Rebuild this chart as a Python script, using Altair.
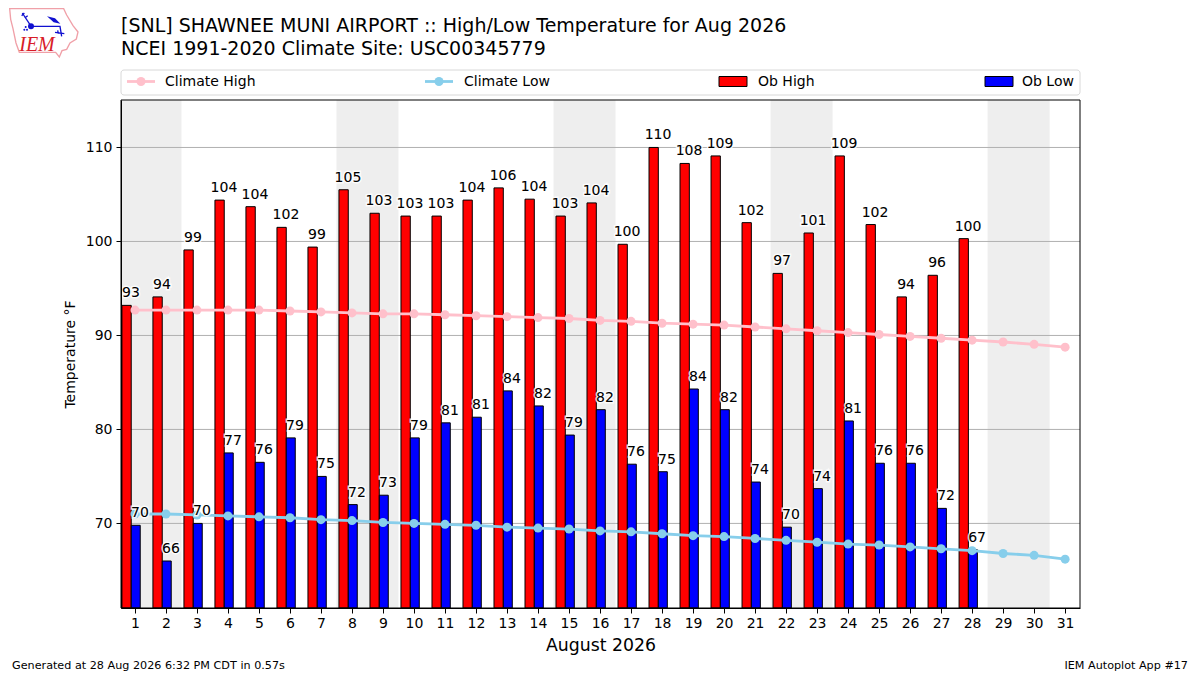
import base64
import altair as alt
import pandas as pd

days = list(range(1, 32))
obs_days = list(range(1, 29))
ob_high = [93.2, 94.1, 99.1, 104.4, 103.7, 101.5, 99.4, 105.5, 103.0, 102.7, 102.7, 104.4, 105.7, 104.5,
           102.7, 104.1, 99.7, 110.0, 108.3, 109.1, 102.0, 96.6, 100.9, 109.1, 101.8, 94.1, 96.4, 100.3]
ob_low = [69.8, 66.0, 70.0, 77.5, 76.5, 79.1, 75.0, 72.0, 73.0, 79.1, 80.7, 81.3, 84.1, 82.5,
          79.4, 82.1, 76.3, 75.5, 84.3, 82.1, 74.4, 69.6, 73.7, 80.9, 76.4, 76.4, 71.6, 67.2]
high_labels = [93, 94, 99, 104, 104, 102, 99, 105, 103, 103, 103, 104, 106, 104,
               103, 104, 100, 110, 108, 109, 102, 97, 101, 109, 102, 94, 96, 100]
low_labels = [70, 66, 70, 77, 76, 79, 75, 72, 73, 79, 81, 81, 84, 82,
              79, 82, 76, 75, 84, 82, 74, 70, 74, 81, 76, 76, 72, 67]
climate_high = [92.7, 92.7, 92.7, 92.7, 92.7, 92.6, 92.5, 92.4, 92.3, 92.3, 92.2, 92.1, 92.0, 91.9, 91.8, 91.6,
                91.5, 91.3, 91.2, 91.1, 90.9, 90.7, 90.5, 90.3, 90.1, 89.9, 89.7, 89.5, 89.3, 89.05, 88.75]
climate_low = [71.0, 71.0, 70.9, 70.8, 70.7, 70.6, 70.4, 70.3, 70.1, 70.0, 69.9, 69.8, 69.6, 69.5, 69.4, 69.2,
               69.1, 68.9, 68.7, 68.6, 68.4, 68.2, 68.0, 67.8, 67.7, 67.5, 67.3, 67.1, 66.8, 66.6, 66.2]
weekend_start = [0.5, 7.5, 14.5, 21.5, 28.5]
weekend_end = [2.5, 9.5, 16.5, 23.5, 30.5]
y_ticks = [70, 80, 90, 100, 110]

W, H = 959, 508
FONT = "DejaVu Sans"
x_scale = alt.Scale(domain=[0.55, 31.48], nice=False, zero=False)
y_scale = alt.Scale(domain=[61.0, 115.05], nice=False, zero=False)

obs = pd.DataFrame({"day": obs_days, "high": ob_high, "low": ob_low, "hl": high_labels, "ll": low_labels})
clim = pd.DataFrame({"day": days, "chigh": climate_high, "clow": climate_low})
wk = pd.DataFrame({"s": weekend_start, "e": weekend_end})
grid = pd.DataFrame({"v": y_ticks})
one = alt.Data(values=[{}])

x_axis = alt.Axis(values=days, format="d", title="August 2026", titleFontSize=17.3, titleFontWeight="normal",
                  titleColor="black", titleFont=FONT, titlePadding=6, labelFont=FONT, labelFontSize=14,
                  labelColor="black", labelPadding=3, labelFlush=False, labelOverlap=False, grid=False,
                  tickColor="black", tickSize=5, domainColor="black", zindex=1)
y_axis = alt.Axis(values=y_ticks, format="d", title="Temperature °F", titleFontSize=14, titleFontWeight="normal",
                  titleColor="black", titleFont=FONT, titlePadding=8, labelFont=FONT, labelFontSize=14,
                  labelColor="black", labelPadding=4, grid=False, tickColor="black", tickSize=5,
                  domainColor="black", zindex=1)

X = lambda f: alt.X(f, scale=x_scale, axis=x_axis)
Y = lambda f: alt.Y(f, scale=y_scale, axis=y_axis)

shade = alt.Chart(wk).mark_rect(color="#eeeeee", clip=True).encode(
    x=X("s:Q"), x2="e:Q", y=alt.value(0), y2=alt.value(H))
grid_rules = alt.Chart(grid).mark_rule(color="#b0b0b0", strokeWidth=1).encode(y=Y("v:Q"))

hi_bars = alt.Chart(obs).transform_calculate(a="datum.day-0.42", b="datum.day-0.12").mark_rect(
    color="red", stroke="black", strokeWidth=1, clip=True).encode(
    x=X("a:Q"), x2="b:Q", y=Y("high:Q"), y2=alt.value(H))
lo_bars = alt.Chart(obs).transform_calculate(a="datum.day-0.12", b="datum.day+0.17").mark_rect(
    color="blue", stroke="black", strokeWidth=1, clip=True).encode(
    x=X("a:Q"), x2="b:Q", y=Y("low:Q"), y2=alt.value(H))


def climate(field, color):
    base = alt.Chart(clim).encode(x=X("day:Q"), y=Y(field + ":Q"))
    return [base.mark_line(color=color, strokeWidth=2.8), base.mark_point(color=color, filled=True, opacity=1, size=81)]


def labels(offset, val, lab):
    base = alt.Chart(obs).transform_calculate(p=f"datum.day+({offset})").encode(
        x=X("p:Q"), y=Y(val + ":Q"), text=alt.Text(lab + ":Q", format="d"))
    common = dict(font=FONT, fontSize=14, baseline="bottom", align="center", dy=-5)
    return [base.mark_text(stroke="white", strokeWidth=3, strokeOpacity=0.85, **common),
            base.mark_text(color="black", **common)]


frame = alt.Chart(one).mark_rect(fillOpacity=0, stroke="black", strokeWidth=1).encode(
    x=alt.value(0), x2=alt.value(W), y=alt.value(0), y2=alt.value(H))


def text_at(txt, x, y, size=14, align="left", **kw):
    return alt.Chart(one).mark_text(font=kw.pop("font", FONT), fontSize=size, align=align, baseline="middle",
                                    color=kw.pop("color", "black"), **kw).encode(
        x=alt.value(x), y=alt.value(y), text=alt.value(txt))


LY = -18.5
legend_box = alt.Chart(one).mark_rect(fill="white", stroke="#d8d8d8", strokeWidth=1, cornerRadius=3).encode(
    x=alt.value(0), x2=alt.value(W), y=alt.value(-30), y2=alt.value(-5))


def leg_line(x, color):
    return [alt.Chart(one).mark_rule(color=color, strokeWidth=2.8).encode(
                x=alt.value(x), x2=alt.value(x + 28), y=alt.value(LY)),
            alt.Chart(one).mark_point(color=color, filled=True, opacity=1, size=81).encode(
                x=alt.value(x + 14), y=alt.value(LY))]


def leg_patch(x, color):
    return alt.Chart(one).mark_rect(color=color, stroke="black", strokeWidth=1).encode(
        x=alt.value(x), x2=alt.value(x + 28), y=alt.value(LY - 5), y2=alt.value(LY + 5))


logo_svg = """<svg xmlns="http://www.w3.org/2000/svg" viewBox="0 0 240 180">
<path d="M14 17 L176 17 L185 36 L204 68 L219 87 L214 108 L195 120 L185 139 L171 143 L163 162 L152 148 L43 148 L33 120 L24 77 L17 49 Z"
 fill="white" stroke="#f0a0a8" stroke-width="4"/>
<g stroke="#1010d0" stroke-width="4" fill="none">
<path d="M78 70 L165 70 L170 100"/><path d="M52 30 L75 65"/><path d="M50 38 L58 30 M60 44 L68 38"/>
<path d="M150 88 L178 92 M158 82 L160 92"/></g>
<circle cx="78" cy="70" r="9" fill="#1010d0"/>
<path d="M126 40 L150 46 L166 62 L146 58 Z" fill="#1010d0"/>
<circle cx="58" cy="80" r="3" fill="#1010d0"/><circle cx="66" cy="80" r="3" fill="#1010d0"/><circle cx="62" cy="72" r="3" fill="#1010d0"/>
</svg>"""
logo_url = "data:image/svg+xml;base64," + base64.b64encode(logo_svg.encode()).decode()
logo = alt.Chart(one).mark_image(url=logo_url, width=80, height=60, align="left", baseline="top").encode(
    x=alt.value(5 - 121), y=alt.value(3 - 100))
logo_text = text_at("IEM", 37 - 121, 45 - 100, size=20, align="center", font="Liberation Serif",
                    color="#d81c28", fontStyle="italic")

layers = [shade, grid_rules, hi_bars, lo_bars]
layers += climate("chigh", "pink") + climate("clow", "skyblue")
layers += labels(-0.13, "high", "hl") + labels(0.16, "low", "ll")
layers += [frame, legend_box]
layers += leg_line(6, "pink") + leg_line(304, "skyblue")
layers += [leg_patch(598, "red"), leg_patch(864, "blue"),
           text_at("Climate High", 44, LY), text_at("Climate Low", 343, LY),
           text_at("Ob High", 637, LY), text_at("Ob Low", 901, LY),
           text_at("[SNL] SHAWNEE MUNI AIRPORT :: High/Low Temperature for Aug 2026", 0, 26 - 100, size=19),
           text_at("NCEI 1991-2020 Climate Site: USC00345779", 0, 49 - 100, size=19),
           text_at("Generated at 28 Aug 2026 6:32 PM CDT in 0.57s", 12 - 121, 666 - 100, size=11.2),
           text_at("IEM Autoplot App #17", 1188 - 121, 666 - 100, size=11.2, align="right"),
           logo, logo_text]

chart = alt.layer(*layers).properties(
    width=W, height=H,
    autosize=alt.AutoSizeParams(type="none"),
    padding={"left": 113, "top": 92, "right": 112, "bottom": 65},
).configure_view(stroke=None)

chart.save("out.html", embed_options={"renderer": "svg", "actions": False})
